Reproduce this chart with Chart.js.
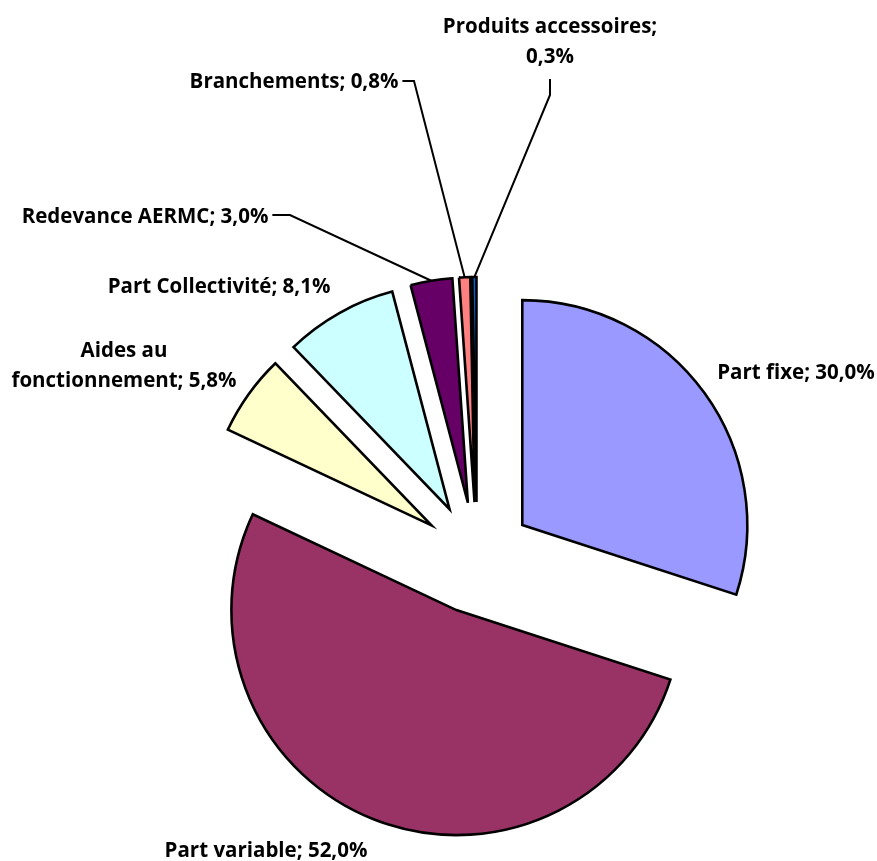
<!DOCTYPE html>
<html lang="fr">
<head>
<meta charset="utf-8">
<title>Répartition des recettes</title>
<script src="https://cdn.jsdelivr.net/npm/chart.js@4.4.0/dist/chart.umd.min.js"></script>
<style>
  html, body { margin: 0; padding: 0; background: #fff; }
  canvas { display: block; }
</style>
</head>
<body>
<canvas id="camembert" width="877" height="861"></canvas>
<script>
// données du camembert (en %)
const categories = ['Part fixe', 'Part variable', 'Aides au fonctionnement', 'Part Collectivité',
                    'Redevance AERMC', 'Branchements', 'Produits accessoires'];
const parts = [30.0, 52.0, 5.8, 8.1, 3.0, 0.8, 0.3];
const couleurs = ['#9999FF', '#993366', '#FFFFCC', '#CCFFFF', '#660066', '#FF8080', '#0066CC'];

function pourcent(v) {
    return v.toFixed(1).replace('.', ',') + '%';
}

// placement des étiquettes, relatif au centre du camembert
// dx/dy = centre du texte / ligne de base, coupe = début de la 2e ligne
// trait = coude du trait de rappel, depart = côté d'où part le trait
const placement = [
    { dx: 319, dy: -179 },
    { dx: -211, dy: 299 },
    { dx: -353, dy: -201, coupe: 'fonctionnement' },
    { dx: -258, dy: -265 },
    { dx: -332, dy: -335, trait: { x: -187, y: -343 }, depart: 'droite' },
    { dx: -183, dy: -470, trait: { x: -63, y: -477 }, depart: 'droite' },
    { dx: 73, dy: -525, coupe: '0,3%', trait: { x: 73, y: -463 }, depart: 'bas' }
];

// écarte chaque part du centre (camembert éclaté)
const eclatement = {
    id: 'eclatement',
    afterDatasetUpdate(chart, args, opts) {
        args.meta.data.forEach(arc => {
            const mid = (arc.startAngle + arc.endAngle) / 2;
            arc.x += Math.cos(mid) * opts.distance;
            arc.y += Math.sin(mid) * opts.distance;
        });
    }
};

const etiquettes = {
    id: 'etiquettes',
    afterDatasetsDraw(chart, args, opts) {
        const ctx = chart.ctx;
        const area = chart.chartArea;
        const cx = (area.left + area.right) / 2;
        const cy = (area.top + area.bottom) / 2;
        const arcs = chart.getDatasetMeta(0).data;

        ctx.save();
        ctx.font = 'bold ' + opts.taille + 'px ' + opts.police;
        ctx.fillStyle = '#000';
        ctx.strokeStyle = '#000';
        ctx.lineWidth = 2;
        ctx.textAlign = 'center';
        ctx.textBaseline = 'alphabetic';

        placement.forEach((p, i) => {
            const texte = categories[i] + '; ' + pourcent(parts[i]);
            let lignes = [texte];
            if (p.coupe) {
                const k = texte.indexOf(p.coupe);
                lignes = [texte.slice(0, k).trim(), texte.slice(k)];
            }
            const x = cx + p.dx;
            const y = cy + p.dy;
            lignes.forEach((l, j) => ctx.fillText(l, x, y + j * opts.interligne));

            if (p.trait) {
                const arc = arcs[i];
                const mid = (arc.startAngle + arc.endAngle) / 2;
                const ex = arc.x + Math.cos(mid) * arc.outerRadius;
                const ey = arc.y + Math.sin(mid) * arc.outerRadius;
                const kx = cx + p.trait.x;
                const ky = cy + p.trait.y;
                let sx, sy;
                if (p.depart === 'droite') {
                    sx = x + ctx.measureText(lignes[0]).width / 2 + 4;
                    sy = ky;
                } else {
                    sx = kx;
                    sy = y + (lignes.length - 1) * opts.interligne + 16;
                }
                ctx.beginPath();
                ctx.moveTo(sx, sy);
                ctx.lineTo(kx, ky);
                ctx.lineTo(ex, ey);
                ctx.stroke();
            }
        });
        ctx.restore();
    }
};

const ctxPie = document.querySelector('#camembert').getContext('2d');
const camembert = new Chart(ctxPie, {
    type: 'pie',
    data: {
        labels: categories,
        datasets: [{
            data: parts,
            backgroundColor: couleurs,
            borderColor: '#000000',
            borderWidth: 2.6,
            borderJoinStyle: 'miter'
        }]
    },
    options: {
        responsive: false,
        animation: false,
        events: [],
        radius: 225,
        layout: {
            padding: { left: 77, right: 0, top: 255, bottom: 0 }
        },
        plugins: {
            legend: { display: false },
            tooltip: { enabled: false },
            eclatement: { distance: 56 },
            etiquettes: { police: '"Open Sans", sans-serif', taille: 20.5, interligne: 30 }
        }
    },
    plugins: [eclatement, etiquettes]
});
</script>
</body>
</html>
